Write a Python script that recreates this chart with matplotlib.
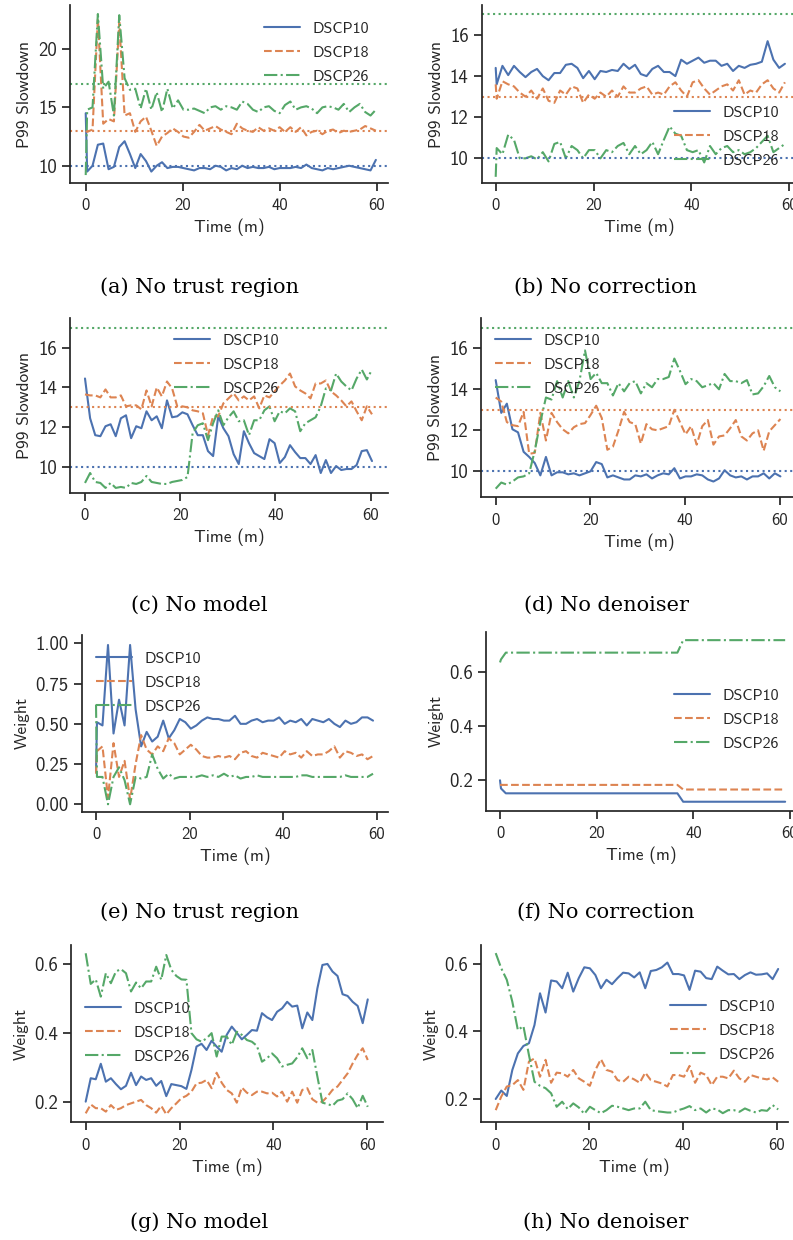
import numpy as np
import matplotlib
matplotlib.use("Agg")
import matplotlib.pyplot as plt
import seaborn as sns

# ---- data ----
# (a) no trust region, slowdown
t_a = [0.0] + list(np.linspace(0.3, 59.8, 55))
a_dscp10 = [14.5, 9.5, 10.0, 11.8, 11.9, 9.7, 9.9, 11.6, 12.1, 11.0, 9.8, 11.0, 10.4, 9.5, 10.0,
            10.3, 9.8, 9.9, 9.9, 9.8, 9.7, 9.6, 9.8, 9.8, 9.7, 10.0, 9.9, 9.6, 9.8, 9.7, 10.0,
            9.8, 9.9, 9.8, 9.8, 9.9, 9.7, 9.8, 9.8, 9.8, 9.9, 9.8, 10.1, 9.8, 9.7, 9.6, 9.8,
            9.7, 9.8, 9.9, 10.0, 9.9, 9.8, 9.7, 9.6, 10.5]
a_dscp18 = [13.0, 12.9, 13.1, 22.6, 13.6, 14.0, 13.8, 22.3, 14.3, 14.5, 12.9, 13.8, 14.2, 13.0,
            11.7, 12.5, 12.8, 13.2, 12.9, 12.5, 12.4, 12.9, 13.5, 13.0, 13.2, 13.4, 13.1, 12.9,
            12.7, 13.6, 13.2, 13.0, 12.9, 13.3, 13.0, 13.2, 13.0, 13.3, 12.9, 13.3, 12.9, 13.3,
            12.6, 12.9, 13.0, 12.7, 13.0, 13.1, 12.8, 13.0, 12.9, 13.0, 13.1, 13.4, 13.2, 13.0]
a_dscp26 = [9.2, 14.8, 15.0, 23.0, 16.6, 17.2, 14.3, 22.9, 17.5, 16.5, 16.6, 14.9, 16.6, 14.8,
            16.3, 14.6, 16.6, 14.9, 15.6, 14.8, 14.8, 14.9, 14.7, 14.5, 15.0, 15.1, 14.8, 15.1,
            15.0, 14.8, 15.5, 15.3, 14.8, 14.6, 15.0, 15.1, 14.7, 14.5, 15.2, 15.5, 14.8, 15.0,
            15.1, 14.9, 14.5, 15.0, 15.1, 15.0, 14.8, 15.3, 14.6, 15.0, 15.3, 14.6, 14.3, 14.8]

# (b) no correction, slowdown
t_b = [0.0] + list(np.linspace(0.2, 59.1, 51))
b_dscp10 = [14.4, 13.6, 14.5, 14.05, 14.5, 14.2, 13.95, 14.2, 14.35, 14.0, 13.8, 14.15, 14.15,
            14.55, 14.6, 14.4, 13.9, 14.25, 13.85, 14.25, 14.2, 14.3, 14.25, 14.6, 14.35, 14.55,
            14.1, 14.0, 14.35, 14.5, 14.2, 14.2, 14.0, 14.8, 14.6, 14.75, 14.9, 14.65, 14.75,
            14.75, 14.5, 14.6, 14.25, 14.5, 14.4, 14.55, 14.6, 14.7, 15.7, 14.8, 14.4, 14.6]
b_dscp18 = [13.6, 12.9, 13.75, 13.6, 13.5, 13.2, 13.0, 13.3, 12.9, 13.4, 12.8, 12.7, 13.3, 13.1,
            13.5, 13.4, 12.7, 13.1, 12.9, 13.2, 13.0, 13.3, 13.0, 13.5, 13.2, 13.2, 13.4, 13.5,
            13.1, 13.2, 13.1, 13.5, 13.7, 13.3, 13.0, 13.7, 13.8, 13.4, 13.1, 13.3, 13.5, 13.6,
            13.3, 13.8, 13.1, 13.3, 13.2, 13.6, 13.8, 13.4, 13.2, 13.7]
b_dscp26 = [9.1, 10.5, 10.2, 11.15, 10.9, 10.0, 10.0, 10.1, 9.95, 10.3, 9.85, 10.7, 10.8, 10.0,
            10.6, 10.4, 10.0, 10.4, 10.4, 10.0, 10.4, 10.3, 10.6, 10.75, 10.2, 10.6, 10.2, 10.4,
            10.8, 10.2, 10.9, 11.55, 11.2, 11.1, 10.4, 10.3, 10.4, 9.8, 10.6, 10.2, 10.5, 10.6,
            10.3, 10.4, 10.2, 10.3, 10.5, 10.8, 11.1, 10.3, 10.5, 10.7]

# (c) no model, slowdown
t_c = np.linspace(0, 60.3, 57)
c_dscp10 = [14.45, 12.45, 11.6, 11.55, 12.05, 12.15, 11.55, 12.45, 12.6, 11.45, 12.05, 11.95,
            12.8, 12.35, 12.55, 11.95, 13.35, 12.5, 12.55, 12.75, 12.65, 12.1, 11.6, 11.6, 10.8,
            10.55, 12.55, 11.95, 11.55, 10.65, 10.15, 11.8, 11.2, 10.7, 10.55, 10.4, 11.4, 11.2,
            10.2, 10.5, 11.1, 10.75, 10.45, 10.45, 10.15, 10.6, 9.7, 10.35, 9.7, 10.05, 9.85,
            9.9, 9.9, 10.1, 10.8, 10.85, 10.3]
c_dscp18 = [13.65, 13.6, 13.6, 13.5, 13.9, 13.5, 13.5, 13.6, 13.05, 13.1, 13.1, 12.9, 13.85,
            13.05, 14.0, 13.55, 14.3, 13.95, 13.05, 13.05, 13.0, 12.85, 12.8, 12.7, 11.6, 12.55,
            12.55, 13.2, 13.45, 13.7, 13.35, 13.55, 13.35, 13.55, 12.95, 13.6, 13.5, 13.8, 14.1,
            14.35, 14.7, 14.05, 13.85, 13.7, 13.45, 14.2, 14.2, 14.35, 13.8, 13.6, 13.35, 13.05,
            13.3, 12.8, 12.35, 13.05, 12.65]
c_dscp26 = [9.2, 9.7, 9.25, 9.2, 8.95, 9.2, 8.95, 9.0, 8.95, 9.2, 9.15, 9.25, 9.55, 9.25, 9.2,
            9.15, 9.15, 9.25, 9.3, 9.35, 9.5, 11.7, 12.1, 12.2, 11.35, 12.2, 12.85, 12.1, 12.5,
            12.8, 12.3, 12.35, 11.6, 12.35, 12.35, 12.85, 13.05, 12.3, 12.8, 12.7, 12.95, 12.8,
            11.8, 12.2, 12.35, 12.5, 13.05, 13.95, 13.85, 14.7, 14.3, 14.05, 13.85, 14.45, 14.9,
            14.4, 14.9]

# (d) no denoiser, slowdown
t_d = np.linspace(0, 60.1, 52)
d_dscp10 = [14.45, 12.85, 13.3, 12.05, 11.9, 10.95, 10.7, 10.4, 9.8, 10.7, 9.8, 9.95, 9.95, 9.85,
            9.9, 9.8, 9.9, 10.0, 10.45, 10.35, 9.7, 9.8, 9.7, 9.6, 9.6, 9.8, 9.75, 9.85, 9.65,
            9.8, 9.9, 9.85, 10.15, 9.65, 9.75, 9.75, 9.85, 9.8, 9.6, 9.5, 9.65, 10.05, 9.8, 9.7,
            9.75, 9.6, 9.75, 9.75, 9.9, 9.65, 9.9, 9.75]
d_dscp18 = [13.6, 13.4, 12.4, 12.25, 12.2, 12.9, 10.85, 10.9, 12.85, 11.5, 12.85, 12.4, 12.05,
            11.85, 12.15, 12.3, 12.35, 12.75, 13.2, 12.6, 11.05, 11.2, 12.0, 12.9, 12.4, 12.3,
            11.35, 12.3, 12.05, 12.0, 12.1, 12.2, 13.0, 12.4, 11.8, 12.2, 11.3, 12.2, 12.5, 11.3,
            11.7, 11.75, 12.1, 12.5, 11.7, 11.5, 11.85, 12.0, 11.0, 11.95, 12.25, 12.55]
d_dscp26 = [9.15, 9.45, 9.35, 9.5, 9.7, 9.75, 9.9, 11.0, 12.4, 13.6, 13.5, 14.4, 13.6, 14.4,
            13.6, 14.4, 15.9, 14.5, 14.8, 14.3, 14.3, 13.7, 14.3, 13.9, 14.3, 14.4, 13.8, 14.3,
            14.1, 14.5, 14.5, 14.6, 15.5, 14.9, 14.25, 14.5, 14.4, 14.1, 14.2, 14.3, 14.0, 14.75,
            14.4, 14.4, 14.3, 14.45, 13.75, 13.8, 14.15, 14.65, 14.1, 13.9]

# (e) no trust region, weight
t_e = [0.0] + list(np.linspace(0.2, 59.2, 51))
e_dscp10 = [0.2, 0.51, 0.49, 0.99, 0.44, 0.65, 0.49, 0.99, 0.59, 0.36, 0.45, 0.39, 0.42, 0.52,
            0.41, 0.46, 0.53, 0.51, 0.47, 0.49, 0.52, 0.54, 0.53, 0.53, 0.52, 0.52, 0.55, 0.5,
            0.5, 0.52, 0.53, 0.51, 0.52, 0.52, 0.54, 0.5, 0.52, 0.51, 0.53, 0.49, 0.53, 0.52,
            0.51, 0.53, 0.5, 0.48, 0.52, 0.5, 0.51, 0.54, 0.54, 0.52]
e_dscp18 = [0.19, 0.33, 0.36, 0.04, 0.38, 0.17, 0.27, 0.03, 0.25, 0.43, 0.34, 0.31, 0.36, 0.33,
            0.41, 0.38, 0.31, 0.34, 0.37, 0.34, 0.3, 0.29, 0.29, 0.3, 0.29, 0.3, 0.28, 0.32,
            0.33, 0.3, 0.29, 0.32, 0.31, 0.3, 0.29, 0.33, 0.31, 0.32, 0.29, 0.33, 0.3, 0.31,
            0.31, 0.33, 0.36, 0.29, 0.33, 0.32, 0.3, 0.31, 0.28, 0.3]
e_dscp26 = [0.62, 0.17, 0.17, 0.0, 0.17, 0.23, 0.15, 0.0, 0.17, 0.16, 0.17, 0.31, 0.22, 0.16,
            0.19, 0.16, 0.17, 0.17, 0.17, 0.17, 0.18, 0.17, 0.18, 0.17, 0.19, 0.17, 0.18, 0.16,
            0.17, 0.17, 0.18, 0.17, 0.17, 0.17, 0.17, 0.17, 0.17, 0.17, 0.18, 0.18, 0.17, 0.17,
            0.17, 0.17, 0.17, 0.17, 0.18, 0.17, 0.17, 0.17, 0.17, 0.19]

# (f) no correction, weight (piecewise constant)
t_f = [0.0, 0.2, 1.2, 36.7, 37.9, 59.0]
f_dscp10 = [0.200, 0.170, 0.152, 0.152, 0.121, 0.121]
f_dscp18 = [0.183, 0.183, 0.183, 0.183, 0.166, 0.166]
f_dscp26 = [0.634, 0.645, 0.670, 0.670, 0.716, 0.716]

# (g) no model, weight
t_g = np.linspace(0, 60.1, 57)
g_dscp10 = [0.2, 0.268, 0.265, 0.31, 0.258, 0.268, 0.251, 0.236, 0.246, 0.284, 0.248, 0.273,
            0.263, 0.268, 0.246, 0.26, 0.216, 0.251, 0.248, 0.245, 0.237, 0.292, 0.36, 0.368,
            0.35, 0.377, 0.36, 0.345, 0.394, 0.418, 0.4, 0.381, 0.394, 0.408, 0.406, 0.457,
            0.445, 0.437, 0.461, 0.471, 0.49, 0.476, 0.479, 0.413, 0.459, 0.437, 0.529, 0.597,
            0.6, 0.578, 0.565, 0.512, 0.507, 0.49, 0.478, 0.428, 0.497]
g_dscp18 = [0.166, 0.192, 0.181, 0.181, 0.171, 0.19, 0.176, 0.181, 0.19, 0.195, 0.2, 0.205,
            0.19, 0.181, 0.168, 0.188, 0.163, 0.181, 0.195, 0.21, 0.217, 0.229, 0.253, 0.255,
            0.263, 0.239, 0.284, 0.255, 0.234, 0.224, 0.197, 0.241, 0.226, 0.219, 0.229, 0.229,
            0.224, 0.226, 0.215, 0.229, 0.2, 0.229, 0.197, 0.234, 0.239, 0.207, 0.197, 0.2,
            0.215, 0.234, 0.244, 0.263, 0.282, 0.311, 0.336, 0.355, 0.321]
g_dscp26 = [0.631, 0.542, 0.555, 0.505, 0.573, 0.544, 0.578, 0.585, 0.573, 0.52, 0.546, 0.529,
            0.549, 0.549, 0.592, 0.554, 0.626, 0.583, 0.565, 0.555, 0.554, 0.399, 0.381, 0.374,
            0.384, 0.399, 0.331, 0.389, 0.389, 0.365, 0.403, 0.394, 0.379, 0.374, 0.362, 0.316,
            0.326, 0.34, 0.326, 0.302, 0.307, 0.311, 0.329, 0.355, 0.326, 0.35, 0.273, 0.197,
            0.193, 0.188, 0.203, 0.207, 0.224, 0.207, 0.181, 0.217, 0.185]

# (h) no denoiser, weight
t_h = np.linspace(0, 60.3, 52)
h_dscp10 = [0.2, 0.225, 0.209, 0.286, 0.335, 0.357, 0.365, 0.419, 0.513, 0.456, 0.551, 0.548,
            0.528, 0.574, 0.518, 0.558, 0.59, 0.587, 0.567, 0.528, 0.553, 0.54, 0.558, 0.574,
            0.572, 0.56, 0.575, 0.528, 0.579, 0.582, 0.59, 0.604, 0.57, 0.57, 0.566, 0.523,
            0.58, 0.577, 0.558, 0.555, 0.592, 0.58, 0.569, 0.57, 0.555, 0.567, 0.575, 0.568,
            0.569, 0.572, 0.555, 0.585]
h_dscp18 = [0.167, 0.207, 0.237, 0.241, 0.256, 0.227, 0.311, 0.32, 0.266, 0.316, 0.248, 0.278,
            0.276, 0.266, 0.286, 0.261, 0.251, 0.239, 0.286, 0.318, 0.286, 0.281, 0.256, 0.251,
            0.266, 0.258, 0.248, 0.278, 0.256, 0.251, 0.246, 0.237, 0.271, 0.271, 0.266, 0.298,
            0.248, 0.278, 0.271, 0.241, 0.266, 0.266, 0.261, 0.284, 0.261, 0.251, 0.271, 0.266,
            0.261, 0.258, 0.264, 0.251]
h_dscp26 = [0.632, 0.587, 0.553, 0.488, 0.404, 0.416, 0.33, 0.251, 0.239, 0.232, 0.217, 0.177,
            0.192, 0.17, 0.187, 0.175, 0.156, 0.177, 0.167, 0.158, 0.167, 0.18, 0.177, 0.172,
            0.167, 0.172, 0.172, 0.192, 0.167, 0.164, 0.162, 0.16, 0.16, 0.167, 0.172, 0.179,
            0.167, 0.172, 0.16, 0.172, 0.169, 0.158, 0.167, 0.167, 0.162, 0.172, 0.165, 0.16,
            0.167, 0.165, 0.182, 0.169]

targets = [10, 13, 17]
labels = ["DSCP10", "DSCP18", "DSCP26"]
captions = ["(a) No trust region", "(b) No correction", "(c) No model", "(d) No denoiser",
            "(e) No trust region", "(f) No correction", "(g) No model", "(h) No denoiser"]

# ---- style ----
sns.set_theme(style="ticks", context="notebook")
plt.rcParams["font.family"] = ["cmss10", "DejaVu Sans"]
plt.rcParams["axes.unicode_minus"] = False
plt.rcParams["xtick.labelsize"] = 12
plt.rcParams["ytick.labelsize"] = 13.5
plt.rcParams["axes.labelsize"] = 12.5
plt.rcParams["xtick.major.pad"] = 5
colors = sns.color_palette("deep")[:3]
styles = ["-", "--", "-."]

W, H = 793, 1240
fig = plt.figure(figsize=(W / 100, H / 100), dpi=100)

# panel boxes in pixels: left, right, top, bottom; legend anchor (upper-left corner) in pixels
panels = [
    (t_a, a_dscp10, a_dscp18, a_dscp26, (70, 388, 5, 183), (-3.24, 62.3), (8.52, 23.77),
     [10, 15, 20], (258, 15)),
    (t_b, b_dscp10, b_dscp18, b_dscp26, (481.7, 797, 5, 183), (-2.86, 61.57), (8.80, 17.46),
     [10, 12, 14, 16], (668, 99)),
    (t_c, c_dscp10, c_dscp18, c_dscp26, (70, 387.7, 318, 492.7), (-3.15, 63.6), (8.71, 17.49),
     [10, 12, 14, 16], (168, 327)),
    (t_d, d_dscp10, d_dscp18, d_dscp26, (481, 797, 318, 497.3), (-3.10, 63.6), (8.73, 17.48),
     [10, 12, 14, 16], (489, 327)),
    (t_e, e_dscp10, e_dscp18, e_dscp26, (81.7, 388, 635, 811.7), (-3.06, 62.4), (-0.046, 1.052),
     [0, 0.25, 0.5, 0.75, 1.0], (90, 645)),
    (t_f, f_dscp10, f_dscp18, f_dscp26, (486, 797, 632, 810.7), (-2.9, 61.45), (0.088, 0.746),
     [0.2, 0.4, 0.6], (668, 682)),
    (t_g, g_dscp10, g_dscp18, g_dscp26, (71, 383, 945, 1122.3), (-3.13, 63.35), (0.140, 0.655),
     [0.2, 0.4, 0.6], (79, 995)),
    (t_h, h_dscp10, h_dscp18, h_dscp26, (481, 788, 945, 1122.3), (-3.14, 62.4), (0.131, 0.656),
     [0.2, 0.4, 0.6], (664, 993)),
]

for i, (t, s10, s18, s26, (l, r, tp, b), xl, yl, yt, anchor) in enumerate(panels):
    ax = fig.add_axes([l / W, 1 - b / H, (r - l) / W, (b - tp) / H])
    for s, col, ls, lab in zip([s10, s18, s26], colors, styles, labels):
        ax.plot(t, s, color=col, ls=ls, lw=1.5, label=lab)
    if i < 4:
        for y, col in zip(targets, colors):
            ax.axhline(y, color=col, ls=":", lw=1.5)
        ax.set_ylabel("P99 Slowdown")
    else:
        ax.set_ylabel("Weight")
    ax.set_xlim(*xl)
    ax.set_ylim(*yl)
    ax.set_xticks([0, 20, 40, 60])
    ax.set_yticks(yt)
    if i == 4:
        ax.set_yticklabels(["%.2f" % v for v in yt])
    ax.set_xlabel("Time (m)")
    ax.legend(loc="upper left", bbox_to_anchor=((anchor[0] - l) / (r - l), (b - anchor[1]) / (b - tp)),
              borderaxespad=0, frameon=False, fontsize=11.5, handlelength=2.2, labelspacing=0.62)
    sns.despine(ax=ax)

cap_x = [199, 606]
cap_y = [287, 605, 912, 1222]
for i, cap in enumerate(captions):
    fig.text(cap_x[i % 2] / W, 1 - cap_y[i // 2] / H, cap, ha="center", va="center",
             family="DejaVu Serif", fontsize=15, color="black")

fig.savefig("out.png", dpi=100)
